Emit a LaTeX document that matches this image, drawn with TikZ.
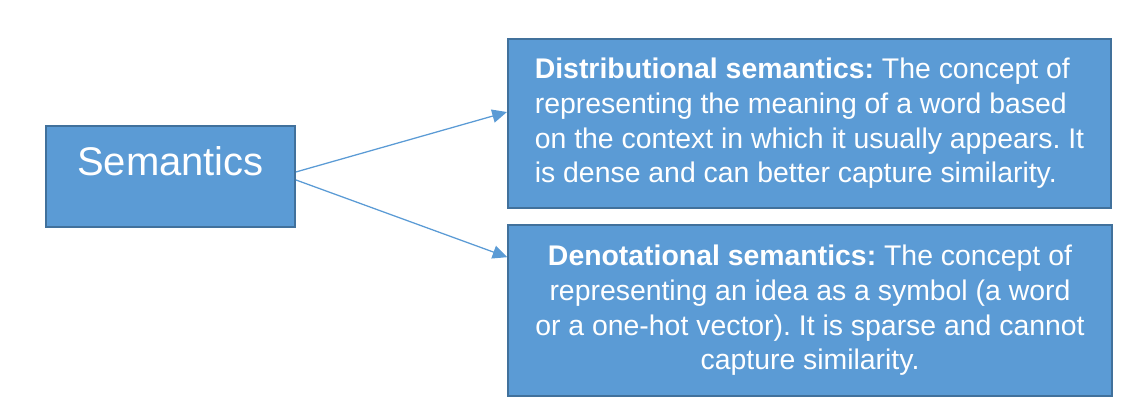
\documentclass[tikz,border=0pt]{standalone}
\usepackage{fontspec}
\setmainfont{Liberation Sans}
\usetikzlibrary{arrows.meta}
\definecolor{boxblue}{HTML}{5B9BD5}
\definecolor{boxline}{HTML}{41719C}
\frenchspacing

\begin{document}
\begin{tikzpicture}[
					x=0.75pt,y=-0.75pt,
					sbox/.style={rectangle,draw=boxline,fill=boxblue,line width=1.4pt,text=white,inner sep=0pt},
					dbox/.style={sbox,minimum width=452.5pt,minimum height=127pt,font=\fontsize{21.3}{26}\selectfont},
					arr/.style={draw=boxblue,line width=0.95pt,-{Triangle[length=11pt,width=10pt]}}
					]
					\useasboundingbox (0,0) rectangle (1140,414);
					\node[sbox,minimum width=186.75pt,minimum height=75.75pt,text height=22pt,text depth=24pt,font=\fontsize{30}{36}\selectfont] (sem) at (170.5,176.5) {Semantics};
					\node[dbox,align=left] (dist) at (809.5,123.5) {\textbf{Distributional semantics:} The concept of\\representing the meaning of a word based\\on the context in which it usually appears. It\\is dense and can better capture similarity.};
					\node[dbox,align=center,minimum height=128.25pt] (deno) at (810,310.5) {\textbf{Denotational semantics:} The concept of\\representing an idea as a symbol (a word\\or a one-hot vector). It is sparse and cannot\\capture similarity.};
					\draw[arr] ([yshift=3.4pt]sem.east) -- ([yshift=8.6pt]dist.west);
					\draw[arr] ([yshift=-2.6pt]sem.east) -- ([yshift=40pt]deno.west);
				\end{tikzpicture}
\end{document}
